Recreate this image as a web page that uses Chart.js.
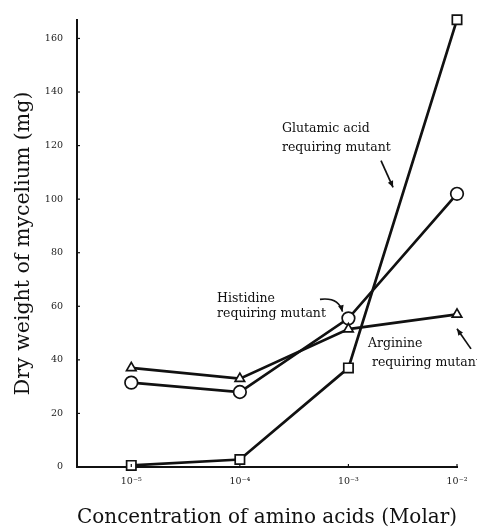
<!DOCTYPE html>
<html>
<head>
<meta charset="utf-8">
<script src="https://cdn.jsdelivr.net/npm/chart.js@4.4.1/dist/chart.umd.min.js"></script>
<style>
html,body{margin:0;padding:0;background:#fff;}
#wrap{width:477px;height:531px;position:relative;}
</style>
</head>
<body>
<div id="wrap"><canvas id="c" width="477" height="531"></canvas></div>
<script>
// ---- data ----
const exponents = [-5, -4, -3, -2];            // log10 of molar concentration
const tickLabels = ['10⁻⁵', '10⁻⁴', '10⁻³', '10⁻²'];
const glutamic = [0.6, 2.8, 37, 167];
const histidine = [31.5, 28, 55.5, 102];
const arginine = [37, 33, 51.5, 57];
const yTicks = [0, 20, 40, 60, 80, 100, 120, 140, 160];

const serif = '"DejaVu Serif", "Liberation Serif", serif';

function pts(vals) { return exponents.map((e, i) => ({x: e, y: vals[i]})); }

// annotations, in data units
const notes = [
  {lines: ['Glutamic acid', 'requiring mutant'], x: -3.612, y: 126.2, dy: 7.0},
  {lines: ['Histidine', 'requiring mutant'], x: -4.21, y: 62.8, dy: 5.7},
  {lines: ['Arginine', 'requiring mutant'], x: -2.82, y: 45.9, dy: 7.0, indent: 0.037}
];

const annot = {
  id: 'annot',
  afterDatasetsDraw(chart) {
    const {ctx, scales: {x, y}} = chart;
    ctx.save();
    ctx.fillStyle = '#111';
    ctx.strokeStyle = '#111';
    ctx.font = '12.5px ' + serif;
    ctx.textBaseline = 'middle';
    ctx.textAlign = 'left';
    notes.forEach(n => {
      n.lines.forEach((t, i) => {
        const xx = x.getPixelForValue(n.x + (i ? (n.indent || 0) : 0));
        ctx.fillText(t, xx, y.getPixelForValue(n.y - i * n.dy));
      });
    });
    // arrows
    function head(px, py, ang) {
      const L = 7, W = 0.42;
      ctx.beginPath();
      ctx.moveTo(px, py);
      ctx.lineTo(px - L * Math.cos(ang - W), py - L * Math.sin(ang - W));
      ctx.lineTo(px - L * Math.cos(ang + W), py - L * Math.sin(ang + W));
      ctx.closePath();
      ctx.fill();
    }
    ctx.lineWidth = 1.7;
    // glutamic: straight
    let x1 = x.getPixelForValue(-2.70), y1 = y.getPixelForValue(114.4);
    let x2 = x.getPixelForValue(-2.589), y2 = y.getPixelForValue(104.4);
    ctx.beginPath(); ctx.moveTo(x1, y1); ctx.lineTo(x2, y2); ctx.stroke();
    head(x2, y2, Math.atan2(y2 - y1, x2 - x1));
    // histidine: curved
    x1 = x.getPixelForValue(-3.262); y1 = y.getPixelForValue(62.6);
    x2 = x.getPixelForValue(-3.055); y2 = y.getPixelForValue(58.0);
    const cx = x.getPixelForValue(-3.09), cy = y.getPixelForValue(63.5);
    ctx.beginPath(); ctx.moveTo(x1, y1); ctx.quadraticCurveTo(cx, cy, x2, y2); ctx.stroke();
    head(x2, y2, Math.atan2(y2 - cy, x2 - cx));
    // arginine: straight
    x1 = x.getPixelForValue(-1.871); y1 = y.getPixelForValue(44.1);
    x2 = x.getPixelForValue(-2.0); y2 = y.getPixelForValue(51.6);
    ctx.beginPath(); ctx.moveTo(x1, y1); ctx.lineTo(x2, y2); ctx.stroke();
    head(x2, y2, Math.atan2(y2 - y1, x2 - x1));
    // small inward tick marks
    ctx.lineWidth = 1.2;
    y.ticks.forEach(t => {
      const py = y.getPixelForValue(t.value);
      ctx.beginPath(); ctx.moveTo(chart.chartArea.left, py); ctx.lineTo(chart.chartArea.left + 3, py); ctx.stroke();
    });
    x.ticks.forEach(t => {
      const px = x.getPixelForValue(t.value);
      ctx.beginPath(); ctx.moveTo(px, chart.chartArea.bottom); ctx.lineTo(px, chart.chartArea.bottom - 3); ctx.stroke();
    });
    ctx.restore();
  }
};

function ds(label, vals, style, r) {
  return {
    label, data: pts(vals),
    borderColor: '#111', borderWidth: 2.7,
    pointStyle: style, pointRadius: r, pointHoverRadius: r,
    pointBackgroundColor: '#fff', pointBorderColor: '#111', pointBorderWidth: 1.7,
    tension: 0, clip: false
  };
}

new Chart(document.getElementById('c'), {
  type: 'line',
  data: {
    datasets: [
      ds('Arginine requiring mutant', arginine, 'triangle', 5.5),
      ds('Histidine requiring mutant', histidine, 'circle', 6.3),
      ds('Glutamic acid requiring mutant', glutamic, 'rect', 6.6)
    ]
  },
  options: {
    responsive: false,
    animation: false,
    events: [],
    layout: {padding: {left: 0, top: 16, right: 20, bottom: 0}},
    plugins: {legend: {display: false}, tooltip: {enabled: false}},
    scales: {
      x: {
        type: 'linear', min: -5.5, max: -2,
        afterBuildTicks(s) { s.ticks = exponents.map(v => ({value: v})); },
        afterFit(s) { s.height = 64; },
        grid: {display: false, drawTicks: false},
        border: {display: true, color: '#111', width: 2},
        ticks: {
          padding: 9, color: '#222', maxRotation: 0, autoSkip: false,
          font: {family: serif, size: 9.5},
          callback: (v) => { const i = exponents.indexOf(v); return i >= 0 ? tickLabels[i] : ''; }
        },
        title: {
          display: true, text: 'Concentration of amino acids (Molar)',
          color: '#111', font: {family: serif, size: 20.5}, padding: {top: 0, bottom: 1.5}
        }
      },
      y: {
        type: 'linear', min: 0, max: 167,
        afterBuildTicks(s) { s.ticks = yTicks.map(v => ({value: v})); },
        afterFit(s) { s.width = 77; },
        grid: {display: false, drawTicks: false},
        border: {display: true, color: '#111', width: 2},
        ticks: {padding: 14, color: '#222', font: {family: serif, size: 9.5}},
        title: {
          display: true, text: 'Dry weight of mycelium (mg)',
          color: '#111', font: {family: serif, size: 20.5}, padding: {top: 11.5, bottom: 0}
        }
      }
    }
  },
  plugins: [annot]
});
</script>
</body>
</html>
